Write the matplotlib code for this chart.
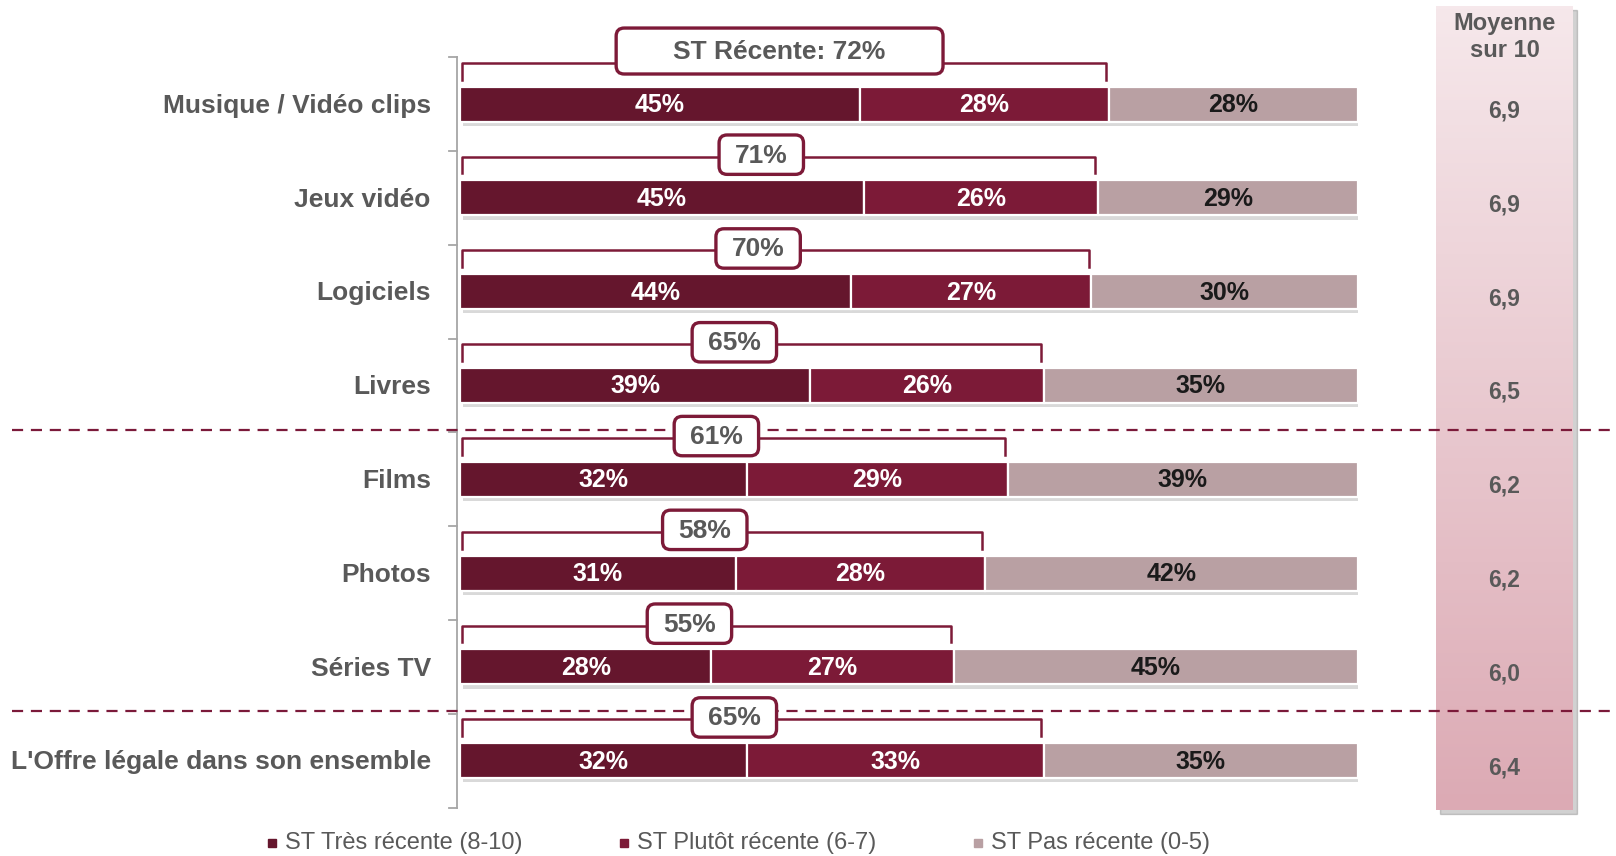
import numpy as np
import matplotlib
matplotlib.use("Agg")
import matplotlib.pyplot as plt
import matplotlib.transforms as mtransforms
from matplotlib.patches import FancyBboxPatch, Rectangle

plt.rcParams['font.family'] = ['Liberation Sans', 'DejaVu Sans']

# --- data ---
categories = ["Musique / Vidéo clips", "Jeux vidéo", "Logiciels", "Livres",
              "Films", "Photos", "Séries TV", "L'Offre légale dans son ensemble"]
tres_recente = [45, 45, 44, 39, 32, 31, 28, 32]
plutot_recente = [28, 26, 27, 26, 29, 28, 27, 33]
pas_recente = [28, 29, 30, 35, 39, 42, 45, 35]
st_recente = [72, 71, 70, 65, 61, 58, 55, 65]
moyenne = [6.9, 6.9, 6.9, 6.5, 6.2, 6.2, 6.0, 6.4]
series_names = ["ST Très récente (8-10)", "ST Plutôt récente (6-7)", "ST Pas récente (0-5)"]
series_colors = ["#65162d", "#7c1a37", "#b9a0a3"]
label_colors = ["white", "white", "#1a1a1a"]

GREY = "#595959"
WINE = "#7d1a38"

fig = plt.figure(figsize=(16.16, 8.56), dpi=100)
W, H = 1616, 856

# panel "Moyenne sur 10" (gradient background)
px0, px1, py0, py1 = 1436, 1573, 6, 810
fig.add_artist(Rectangle(((px0 + 4) / W, 1 - (py1 + 4) / H), (px1 - px0) / W, (py1 - py0) / H,
                         transform=fig.transFigure, color="#000000", alpha=0.18, zorder=0))
pan = fig.add_axes([px0 / W, 1 - py1 / H, (px1 - px0) / W, (py1 - py0) / H])
pan.set_zorder(1)
top_c = np.array(matplotlib.colors.to_rgb("#f6e8eb"))
bot_c = np.array(matplotlib.colors.to_rgb("#dcaab4"))
t = np.linspace(0, 1, 256)[:, None]
grad = (top_c * (1 - t) + bot_c * t)[:, None, :]
pan.imshow(grad, aspect="auto", extent=[0, 1, 0, 1])
pan.axis("off")

# main axes: x in %, y in rows
ax = fig.add_axes([460 / W, 0, 898 / W, 1])
ax.set_zorder(2)
ax.set_xlim(0, 100)
ax.set_ylim(8.017, -1.109)
ax.axis("off")

y = np.arange(len(categories))
vals = np.array([tres_recente, plutot_recente, pas_recente], dtype=float)
widths = vals / vals.sum(axis=0) * 100
lefts = np.vstack([np.zeros(len(categories)), np.cumsum(widths, axis=0)[:-1]])
bar_h = 0.373

# shadow under bars
ax.barh(y + 0.045, 100, left=0.35, height=bar_h, color="#000000", alpha=0.15,
        linewidth=0, zorder=1)
for k in range(3):
    ax.barh(y, widths[k], left=lefts[k], height=bar_h, color=series_colors[k],
            edgecolor="white", linewidth=1.6, zorder=2)
    for i in range(len(categories)):
        ax.text(lefts[k][i] + widths[k][i] / 2, y[i] + 0.01, f"{int(vals[k][i])}%",
                ha="center", va="center", fontsize=18, fontweight="bold",
                color=label_colors[k], zorder=3)

# category axis line and ticks
ax.plot([-0.33, -0.33], [-0.5, len(categories) - 0.5], color="#a6a6a6", lw=1.3,
        clip_on=False, zorder=2)
for b in np.arange(-0.5, len(categories), 1.0):
    ax.plot([-1.2, -0.33], [b, b], color="#a6a6a6", lw=1.3, clip_on=False, zorder=2)
for i, c in enumerate(categories):
    ax.text(-3.25, y[i] + 0.02, c, ha="right", va="center", fontsize=19,
            fontweight="bold", color=GREY)

# dashed separators across the whole figure
blend = mtransforms.blended_transform_factory(fig.transFigure, ax.transData)
for sep in [3.5, 6.5]:
    ax.plot([12 / W, 1.0], [sep - 0.03, sep - 0.03], transform=blend, color="#7b1a3a",
            lw=1.6, dashes=(5, 3.5), clip_on=False, zorder=3)

# brackets + ST boxes
aspect = (898 / 100) / (856 / 9.126)
for i in range(len(categories)):
    end = lefts[2][i] - 0.3
    yl = y[i] - 0.44
    ye = y[i] - 0.26
    ax.plot([0.2, 0.2, end, end], [ye, yl, yl, ye], color=WINE, lw=1.8,
            solid_joinstyle="round", clip_on=False, zorder=4)
    if i == 0:
        txt = f"ST Récente: {st_recente[i]}%"
        bw, bh, cx, cy = 36.4, 0.49, end / 2 - 0.4, y[i] - 0.565
    else:
        txt = f"{st_recente[i]}%"
        bw, bh, cx, cy = 9.4, 0.42, end / 2 - 1.8, yl - 0.02
    box = FancyBboxPatch((cx - bw / 2, cy - bh / 2), bw, bh,
                         boxstyle="round,pad=0,rounding_size=0.9",
                         mutation_aspect=aspect, facecolor="white",
                         edgecolor=WINE, linewidth=2.4, zorder=5, clip_on=False)
    ax.add_patch(box)
    ax.text(cx, cy + 0.01, txt, ha="center", va="center", fontsize=19,
            fontweight="bold", color=GREY, zorder=6)

# moyenne column
pcx = (px0 + px1) / 2 / W
for i, m in enumerate(moyenne):
    ax.text(pcx, y[i] + 0.075, f"{m:.1f}".replace(".", ","), transform=blend,
            ha="center", va="center", fontsize=16.5, fontweight="bold", color=GREY)
fig.text(pcx, 1 - 37 / H, "Moyenne\nsur 10", ha="center", va="center",
         fontsize=17, fontweight="bold", color=GREY, linespacing=1.25, zorder=5)

# legend
leg_x = [268, 620, 974]
for k in range(3):
    fig.add_artist(Rectangle((leg_x[k] / W, 1 - 847 / H), 8 / W, 8 / H,
                             transform=fig.transFigure, color=series_colors[k]))
    fig.text((leg_x[k] + 17) / W, 1 - 843 / H, series_names[k], ha="left",
             va="center", fontsize=17, color=GREY)

fig.savefig("out.png", dpi=100)
